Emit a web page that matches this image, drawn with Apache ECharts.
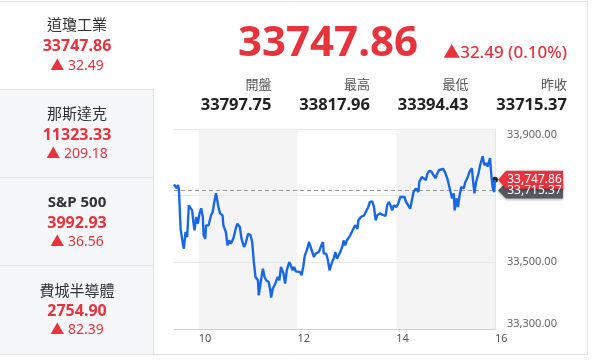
<!DOCTYPE html>
<html><head><meta charset="utf-8">
<script src="https://cdn.jsdelivr.net/npm/echarts@6/dist/echarts.min.js"></script>
<style>html,body{margin:0;padding:0;background:#fff;}#c{width:595px;height:361px;}</style>
</head><body><div id="c"></div>
<script>
// minutes since midnight
const times = [570,573,575,576,578,581,582,584,586,588,
590,592,594,595,597,599,601,603,605,606,
608,609,611,612,615,617,619,621,624,626,
629,630,633,635,637,639,642,645,647,650,
652,655,657,660,663,665,667,669,672,673,
676,678,680,682,685,687,688,690,693,696,
698,700,702,703,705,707,710,712,714,716,
718,720,723,725,727,729,732,734,736,738,
740,742,744,746,749,751,752,755,757,759,
762,764,766,768,770,772,775,776,778,780,
783,785,787,790,791,793,794,797,798,801,
803,806,808,811,813,815,817,820,823,825,
827,829,831,833,835,837,840,842,845,847,
850,852,854,857,859,861,864,867,868,871,
873,876,878,880,883,885,888,889,892,894,
897,899,902,904,906,908,910,911,913,915,
917,919,922,924,927,929,932,933,935,937,
940,942,945,947,950,951,954,955,957,959,
960];
const values = [33734,33723,33732,33717,33601,33551,33541,33591,33576,33671,
33674,33656,33611,33596,33636,33616,33647,33662,33636,33581,
33571,33611,33616,33611,33641,33651,33681,33707,33666,33647,
33641,33611,33591,33551,33566,33556,33571,33601,33616,33606,
33571,33546,33556,33586,33581,33561,33501,33456,33446,33401,
33451,33481,33456,33446,33441,33416,33394.43,33421,33436,33456,
33446,33486,33491,33466,33436,33476,33501,33491,33476,33486,
33473,33479,33471,33461,33486,33521,33541,33561,33546,33531,
33516,33526,33521,33531,33551,33561,33526,33526,33506,33476,
33501,33511,33531,33511,33506,33531,33551,33566,33551,33566,
33576,33586,33591,33611,33616,33601,33626,33636,33631,33641,
33651,33666,33681,33683,33666,33626,33641,33647,33643,33647,
33639,33671,33681,33671,33656,33671,33666,33674,33696,33702,
33696,33681,33686,33661,33666,33711,33722,33711,33741,33756,
33752,33747,33767,33774,33772,33762,33752,33762,33777,33777,
33780,33772,33752,33732,33711,33692,33707,33656,33692,33666,
33701,33726,33722,33741,33756,33772,33782,33752,33707,33741,
33767,33792,33817.96,33792,33797,33787,33813,33777,33726,33711,
33747.86];

const yTickLabels = [33300, 33500, 33900];
const gridValues = [33500, 33700, 33900];
const xTickHours = [10, 12, 14, 16];
const shadedHours = [[10, 12], [14, 16]];
const prevClose = 33715.37;
const lastPrice = 33747.86;

const indexNames = ['道瓊工業', '那斯達克', 'S&P 500', '費城半導體'];
const indexPrices = ['33747.86', '11323.33', '3992.93', '2754.90'];
const indexChanges = ['32.49', '209.18', '36.56', '82.39'];
const statLabels = ['開盤', '最高', '最低', '昨收'];
const statValues = ['33797.75', '33817.96', '33394.43', '33715.37'];
const headline = '33747.86';
const headChange = '▲32.49 (0.10%)';

const RED = '#e8333d';
const FONT = "'Noto Sans', 'Noto Sans CJK TC', sans-serif";
const fmt = v => v.toLocaleString('en-US', {minimumFractionDigits: 2, maximumFractionDigits: 2});

const chart = echarts.init(document.getElementById('c'), null, {renderer: 'canvas'});
const data = times.map((t, i) => [t, values[i]]);

chart.setOption({
  animation: false,
  backgroundColor: '#fff',
  grid: {left: 174, right: 100, top: 129, bottom: 32, containLabel: false},
  xAxis: {
    type: 'value', min: 570, max: 960, interval: 30,
    axisLine: {show: true, lineStyle: {color: '#cfcfcf', width: 1}},
    axisTick: {show: false},
    splitLine: {show: false},
    axisLabel: {
      margin: 4, align: 'left', color: '#555', fontSize: 11, fontFamily: FONT,
      formatter: v => xTickHours.includes(v / 60) ? String(v / 60) : ''
    }
  },
  yAxis: {
    type: 'value', position: 'right', min: 33300, max: 33900, interval: 100,
    axisLine: {show: true, lineStyle: {color: '#e6e6e6'}},
    axisTick: {show: false},
    splitLine: {show: false},
    axisLabel: {
      margin: 12, color: '#666', fontSize: 11, fontFamily: FONT,
      verticalAlignMinLabel: 'bottom', verticalAlignMaxLabel: 'top',
      formatter: v => yTickLabels.includes(v) ? fmt(v) : ''
    }
  },
  series: [{
    type: 'line', data: data, showSymbol: false, symbol: 'none',
    lineStyle: {color: '#1868e6', width: 2.4}, z: 5,
    markArea: {
      silent: true,
      itemStyle: {color: '#f4f4f4'},
      data: shadedHours.map(h => [{xAxis: h[0] * 60}, {xAxis: h[1] * 60}])
    },
    markLine: {
      silent: true, symbol: 'none', label: {show: false},
      data: gridValues.map(v => ({yAxis: v, lineStyle: {color: '#e9e9e9', width: 1, type: 'solid'}}))
        .concat([{yAxis: prevClose, lineStyle: {color: '#9a9a9a', width: 1, type: [4, 3]}}])
    },
    markPoint: {
      silent: true, symbol: 'circle', symbolSize: 6,
      itemStyle: {color: '#222'}, label: {show: false},
      data: [{coord: [times[times.length - 1], lastPrice]}]
    }
  }]
});

// static layout graphics
const g = [];
const BORDER = '#e3e3e3';
g.push({type: 'rect', shape: {x: 0, y: 89.5, width: 153.5, height: 265}, style: {fill: '#f6f7f9'}, z: 0});
const line = (x1, y1, x2, y2) => g.push({type: 'line', shape: {x1, y1, x2, y2}, style: {stroke: BORDER, lineWidth: 1}, z: 1});
line(0, 1.5, 587.5, 1.5);
line(587.5, 1.5, 587.5, 354.5);
line(0, 354.5, 587.5, 354.5);
line(153.5, 89.5, 153.5, 354.5);
line(0, 89.5, 153.5, 89.5);
line(0, 177.5, 153.5, 177.5);
line(0, 265.5, 153.5, 265.5);

const cellY = [[26, 46.5, 66], [115, 135, 154], [202.5, 223.5, 242.5], [291.5, 311.5, 330.5]];
const txt = (text, x, y, o) => g.push({type: 'text', z: 10, style: Object.assign({
  text, x, y, align: 'center', verticalAlign: 'middle', fontFamily: FONT, fontSize: 14, fill: '#333'
}, o)});
indexNames.forEach((n, i) => {
  const yy = cellY[i];
  txt(n, 77, yy[0], {fontSize: 15, fill: '#333', fontWeight: i === 2 ? 'bold' : 'normal'});
  txt(indexPrices[i], 77, yy[1], {fontSize: 16, fill: RED, fontWeight: 'bold'});
  txt('▲ ' + indexChanges[i], 77, yy[2], {fontSize: 14, fill: RED});
});
// header
txt(headline, 328, 44, {fontSize: 42, fontWeight: 'bold', fill: RED});
txt(headChange, 567, 53, {fontSize: 17, fill: RED, align: 'right', fontWeight: 500});
const statX = [271.5, 370, 468.5, 567];
statLabels.forEach((l, i) => {
  txt(l, statX[i], 85, {fontSize: 13, fill: '#555', align: 'right'});
  txt(statValues[i], statX[i], 105.5, {fontSize: 16.5, fill: '#222', align: 'right', fontWeight: 'bold'});
});

// price tags positioned by the chart's own scales
const pLast = chart.convertToPixel({xAxisIndex: 0, yAxisIndex: 0}, [times[times.length - 1], lastPrice]);
const pPrev = chart.convertToPixel({xAxisIndex: 0, yAxisIndex: 0}, [960, prevClose]);
const gridRight = chart.convertToPixel({xAxisIndex: 0}, 960);
const tag = (y, fill, text, h) => {
  const tip = gridRight + 3, x0 = tip + 8, x1 = 563;
  g.push({type: 'polygon', z: 50, shape: {points: [[tip, y], [x0, y - h], [x1, y - h], [x1, y + h], [x0, y + h]]},
    style: {fill, shadowBlur: 3, shadowOffsetY: 1, shadowColor: 'rgba(0,0,0,0.35)'}});
  g.push({type: 'text', z: 51, style: {text, x: (x0 + x1) / 2, y, align: 'center', verticalAlign: 'middle',
    fontFamily: FONT, fontSize: 12, fill: '#fff'}});
};
tag(pPrev[1], '#54595f', fmt(prevClose), 8);
tag(pLast[1], RED, fmt(lastPrice), 9);

chart.setOption({graphic: g});
</script>
</body></html>
